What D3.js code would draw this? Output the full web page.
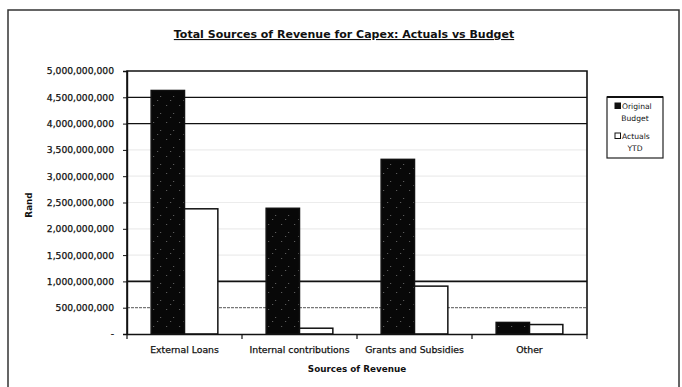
<!DOCTYPE html>
<html><head><meta charset="utf-8">
<script src="https://cdn.jsdelivr.net/npm/d3@7"></script>
<style>
html,body{margin:0;padding:0;background:#fff;}
text{font-family:"DejaVu Sans",Arial,sans-serif;fill:#111;}
</style></head>
<body><svg id="c" width="682" height="387"></svg>
<script>
const categories = ["External Loans","Internal contributions","Grants and Subsidies","Other"];
const seriesNames = ["Original Budget","Actuals YTD"];
const budget = [4630000000, 2390000000, 3320000000, 220000000];
const actuals = [2380000000, 110000000, 910000000, 180000000];
const yTicks = [0,500000000,1000000000,1500000000,2000000000,2500000000,3000000000,3500000000,4000000000,4500000000,5000000000];
const title = "Total Sources of Revenue for Capex: Actuals vs Budget";
const xTitle = "Sources of Revenue";
const yTitle = "Rand";

const svg = d3.select("#c");
const m = {left:127, right:587, top:71, bottom:334};

// speckle pattern for dark bars
const defs = svg.append("defs");
const pat = defs.append("pattern").attr("id","speck").attr("width",13).attr("height",17).attr("patternUnits","userSpaceOnUse");
pat.append("rect").attr("width",13).attr("height",17).attr("fill","#080808");
[[2,3],[9,11],[6,15]].forEach(p=>pat.append("rect").attr("x",p[0]).attr("y",p[1]).attr("width",1).attr("height",1).attr("fill","#6a6a6a"));

// outer frame
svg.append("rect").attr("x",8).attr("y",10).attr("width",671).attr("height",400)
  .attr("fill","none").attr("stroke","#333").attr("stroke-width",1.5);

const x = d3.scaleBand().domain(categories).range([m.left,m.right]).paddingInner(0.42).paddingOuter(0.21);
const x1 = d3.scaleBand().domain(seriesNames).range([0,x.bandwidth()]);
const y = d3.scaleLinear().domain([0,5000000000]).range([m.bottom,m.top]);

// gridlines
const faded = v => v>=1500000000 && v<=3500000000;
svg.append("g").selectAll("line").data(yTicks.filter(v=>v>0 && v<5000000000)).join("line")
  .attr("x1",m.left).attr("x2",m.right).attr("y1",d=>y(d)).attr("y2",d=>y(d))
  .attr("stroke",d=> d===500000000 ? "#777" : (faded(d) ? "#ececec" : "#111"))
  .attr("stroke-width",d=> d===1000000000 ? 1.6 : 1.2)
  .attr("stroke-dasharray",d=> d===500000000 ? "3,1" : null);

// bars
const rows = categories.map((c,i)=>({c, vals:[budget[i],actuals[i]]}));
const g = svg.append("g").selectAll("g").data(rows).join("g").attr("transform",d=>`translate(${x(d.c)},0)`);
g.selectAll("rect").data(d=>d.vals.map((v,j)=>({s:seriesNames[j],v,j}))).join("rect")
  .attr("x",d=>x1(d.s)).attr("width",x1.bandwidth())
  .attr("y",d=>y(d.v)).attr("height",d=>y(0)-y(d.v))
  .attr("fill",d=>d.j===0?"url(#speck)":"#fff")
  .attr("stroke","#111").attr("stroke-width",1.5);

// plot border (top, left, right)
svg.append("path").attr("d",`M${m.left},${m.bottom}V${m.top}H${m.right}V${m.bottom}`)
  .attr("fill","none").attr("stroke","#111").attr("stroke-width",1.6);

// y axis
const fmt = v => v===0 ? "-" : d3.format(",")(v);
const ya = svg.append("g").attr("transform",`translate(${m.left},0)`)
  .call(d3.axisLeft(y).tickValues(yTicks).tickFormat(fmt).tickSize(4).tickPadding(9));
ya.select(".domain").attr("stroke","#111").attr("stroke-width",1.4);
ya.selectAll(".tick line").attr("stroke","#111");
ya.selectAll("text").style("font-size","9.2px").attr("fill","#111").attr("stroke","#111").attr("stroke-width",0.25);

// x axis
const xa = svg.append("g").attr("transform",`translate(0,${m.bottom})`)
  .call(d3.axisBottom(x).tickSize(0).tickPadding(12));
xa.select(".domain").attr("stroke","#111").attr("stroke-width",1.4);
xa.selectAll("text").style("font-size","9.3px").attr("fill","#111").attr("stroke","#111").attr("stroke-width",0.25);
// category boundary ticks
const bounds = d3.range(categories.length+1).map(i=>m.left + i*(m.right-m.left)/categories.length);
svg.append("g").selectAll("line").data(bounds).join("line")
  .attr("x1",d=>d).attr("x2",d=>d).attr("y1",m.bottom).attr("y2",m.bottom+5)
  .attr("stroke","#111").attr("stroke-width",1.2);

// titles
svg.append("text").attr("x",344).attr("y",38).attr("text-anchor","middle")
  .style("font-size","11px").style("font-weight","bold").style("text-decoration","underline").text(title);
svg.append("text").attr("x",(m.left+m.right)/2).attr("y",372).attr("text-anchor","middle")
  .style("font-size","8.8px").style("font-weight","bold").text(xTitle);
svg.append("text").attr("transform","translate(32,205) rotate(-90)").attr("text-anchor","middle")
  .style("font-size","8.8px").style("font-weight","bold").text(yTitle);

// legend
const lg = svg.append("g");
lg.append("rect").attr("x",607).attr("y",97).attr("width",56).attr("height",61)
  .attr("fill","#fff").attr("stroke","#222").attr("stroke-width",1.2);
lg.append("line").attr("x1",607).attr("x2",663).attr("y1",97).attr("y2",97).attr("stroke","#111").attr("stroke-width",2);
const legendLines = [["Original","Budget"],["Actuals","YTD"]];
seriesNames.forEach((s,i)=>{
  const y0 = 109 + i*30;
  lg.append("rect").attr("x",615).attr("y",y0-6).attr("width",5.5).attr("height",5.5)
    .attr("fill",i===0?"#111":"#fff").attr("stroke","#111").attr("stroke-width",1);
  lg.append("text").attr("x",622).attr("y",y0).style("font-size","7.6px").text(legendLines[i][0]);
  lg.append("text").attr("x",635).attr("y",y0+12).attr("text-anchor","middle").style("font-size","7.6px").text(legendLines[i][1]);
});
</script></body></html>
